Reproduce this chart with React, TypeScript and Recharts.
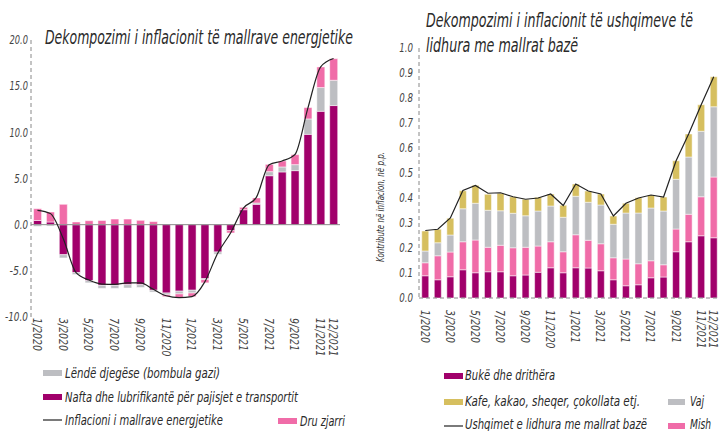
import React from 'react';
import {
  ComposedChart,
  Bar,
  Line,
  XAxis,
  YAxis,
  ReferenceLine,
} from 'recharts';

const months = [
  '1/2020', '2/2020', '3/2020', '4/2020', '5/2020', '6/2020', '7/2020', '8/2020',
  '9/2020', '10/2020', '11/2020', '12/2020', '1/2021', '2/2021', '3/2021', '4/2021',
  '5/2021', '6/2021', '7/2021', '8/2021', '9/2021', '10/2021', '11/2021', '12/2021',
];
const shownTicks = [
  '1/2020', '3/2020', '5/2020', '7/2020', '9/2020', '11/2020', '1/2021',
  '3/2021', '5/2021', '7/2021', '9/2021', '11/2021', '12/2021',
];

// energjia
const nafta = [0.45, 0.29, -3.25, -5.2, -6.07, -6.57, -6.57, -6.5, -6.5, -7.1, -7.4, -7.2, -7.1, -5.85, -2.96, -0.65, 1.62, 2.2, 5.3, 5.71, 5.85, 9.78, 12.28, 12.9];
const gazi = [-0.18, -0.15, -0.35, -0.2, -0.23, -0.33, -0.33, -0.36, -0.3, -0.2, -0.2, -0.3, -0.3, -0.1, -0.24, 0, 0, 0.15, 0.44, 0.54, 0.65, 1.67, 2.57, 2.74];
const dru = [1.28, 1.08, 2.2, 0.29, 0.43, 0.45, 0.61, 0.61, 0.47, 0.33, -0.2, -0.4, -0.4, -0.35, 0, -0.25, 0.26, 0.55, 0.79, 0.65, 1.08, 1.23, 2.23, 2.34];
const inflEnergji = [1.55, 1.2, -1.5, -5.2, -6.0, -6.43, -6.46, -6.3, -6.3, -7.0, -7.7, -7.9, -7.8, -6.2, -3.1, -0.9, 1.8, 2.95, 6.5, 6.9, 7.6, 12.6, 17.1, 18.0];
const energjiTicks = [-10, -5, 0, 5, 10, 15, 20];

// ushqimet
const buke = [0.089, 0.073, 0.085, 0.113, 0.101, 0.105, 0.105, 0.089, 0.092, 0.103, 0.121, 0.101, 0.121, 0.12, 0.109, 0.073, 0.049, 0.053, 0.081, 0.084, 0.185, 0.225, 0.249, 0.241];
const mish = [0.052, 0.096, 0.099, 0.112, 0.131, 0.098, 0.106, 0.112, 0.111, 0.105, 0.104, 0.084, 0.132, 0.111, 0.108, 0.088, 0.107, 0.084, 0.068, 0.049, 0.091, 0.11, 0.156, 0.243];
const vaj = [0.047, 0.052, 0.068, 0.132, 0.147, 0.148, 0.138, 0.138, 0.126, 0.14, 0.143, 0.138, 0.154, 0.152, 0.155, 0.134, 0.184, 0.203, 0.211, 0.215, 0.199, 0.229, 0.262, 0.281];
const kafe = [0.08, 0.054, 0.067, 0.072, 0.072, 0.064, 0.07, 0.066, 0.066, 0.055, 0.048, 0.048, 0.049, 0.045, 0.044, 0.033, 0.039, 0.061, 0.052, 0.056, 0.074, 0.092, 0.106, 0.12];
const ushqimet = [0.27, 0.275, 0.32, 0.43, 0.45, 0.419, 0.421, 0.405, 0.395, 0.4, 0.416, 0.37, 0.456, 0.428, 0.416, 0.328, 0.379, 0.4, 0.412, 0.404, 0.549, 0.656, 0.773, 0.885];
const ushqimTicks = [0, 0.1, 0.2, 0.3, 0.4, 0.5, 0.6, 0.7, 0.8, 0.9, 1.0];

const energjiData = months.map((m, i) => ({
  muaji: m,
  nafta: nafta[i],
  gazi: gazi[i],
  dru: dru[i],
  infl: inflEnergji[i],
}));

const ushqimData = months.map((m, i) => ({
  muaji: m,
  buke: buke[i],
  mish: mish[i],
  vaj: vaj[i],
  kafe: kafe[i],
  infl: ushqimet[i],
}));

const FONT = '"Liberation Sans Narrow", "DejaVu Sans Condensed", "Liberation Sans", sans-serif';
const C_DARK = '#a1006b';
const C_PINK = '#f06ca8';
const C_GRAY = '#bdbec2';
const C_GOLD = '#d6bf5f';

function MonthTick({ x, y, payload, off }: any) {
  if (!shownTicks.includes(payload.value)) return null;
  const s: string = payload.value;
  return (
    <g transform={`translate(${x},${y + off})`}>
      <text
        transform="rotate(90)"
        x={0}
        y={0}
        dy="0.35em"
        textAnchor="start"
        textLength={s.length * 5.5}
        lengthAdjust="spacingAndGlyphs"
        fill="#444"
        fontFamily={FONT}
        fontStyle="italic"
        fontSize={13}
      >
        {s}
      </text>
    </g>
  );
}

function ValueTick({ x, y, payload }: any) {
  const s = payload.value.toFixed(1);
  return (
    <text
      x={x}
      y={y}
      dy="0.35em"
      textAnchor="end"
      textLength={s.length * 4.6}
      lengthAdjust="spacingAndGlyphs"
      fill="#444"
      fontFamily={FONT}
      fontStyle="italic"
      fontSize={12}
    >
      {s}
    </text>
  );
}

const dashedAxis = { stroke: '#888', strokeDasharray: '4 3' };

function EnergjiChart() {
  return (
    <ComposedChart
      width={361}
      height={375}
      data={energjiData}
      stackOffset="sign"
      barCategoryGap="20%"
      margin={{ top: 40, right: 21, bottom: 0, left: 0 }}
    >
      <XAxis
        dataKey="muaji"
        interval={0}
        axisLine={false}
        tickLine={false}
        height={58}
        tick={<MonthTick off={-7} />}
      />
      <YAxis
        domain={[-10, 20]}
        ticks={energjiTicks}
        width={31}
        tickLine={false}
        tickSize={2}
        tickMargin={1}
        axisLine={dashedAxis}
        tick={<ValueTick />}
      />
      <ReferenceLine y={0} stroke="#8a8a8a" strokeWidth={1} />
      <Bar dataKey="nafta" stackId="e" fill={C_DARK} stroke="#fff" strokeWidth={0.5} isAnimationActive={false} />
      <Bar dataKey="gazi" stackId="e" fill={C_GRAY} stroke="#fff" strokeWidth={0.5} isAnimationActive={false} />
      <Bar dataKey="dru" stackId="e" fill={C_PINK} stroke="#fff" strokeWidth={0.5} isAnimationActive={false} />
      <Line
        type="monotone"
        dataKey="infl"
        stroke="#222"
        strokeWidth={1.2}
        dot={false}
        isAnimationActive={false}
      />
    </ComposedChart>
  );
}

function UshqimChart() {
  return (
    <ComposedChart
      width={361}
      height={360}
      data={ushqimData}
      barCategoryGap="22%"
      margin={{ top: 48, right: 2, bottom: 0, left: 0 }}
    >
      <XAxis
        dataKey="muaji"
        interval={0}
        axisLine={dashedAxis}
        tickLine={false}
        height={62}
        tick={<MonthTick off={4} />}
      />
      <YAxis
        domain={[0, 1]}
        ticks={ushqimTicks}
        width={58}
        tickLine={false}
        tickSize={4}
        tickMargin={2}
        axisLine={dashedAxis}
        tick={<ValueTick />}
      />
      <Bar dataKey="buke" stackId="u" fill={C_DARK} stroke="#fff" strokeWidth={0.5} isAnimationActive={false} />
      <Bar dataKey="mish" stackId="u" fill={C_PINK} stroke="#fff" strokeWidth={0.5} isAnimationActive={false} />
      <Bar dataKey="vaj" stackId="u" fill={C_GRAY} stroke="#fff" strokeWidth={0.5} isAnimationActive={false} />
      <Bar dataKey="kafe" stackId="u" fill={C_GOLD} stroke="#fff" strokeWidth={0.5} isAnimationActive={false} />
      <Line
        type="linear"
        dataKey="infl"
        stroke="#222"
        strokeWidth={1.2}
        dot={false}
        isAnimationActive={false}
      />
    </ComposedChart>
  );
}

function T({ x, y, len, size = 14, children }: any) {
  return (
    <text
      x={x}
      y={y}
      textLength={len}
      lengthAdjust="spacingAndGlyphs"
      fontFamily={FONT}
      fontStyle="italic"
      fontSize={size}
      fill="#2a2a2a"
    >
      {children}
    </text>
  );
}

function Overlay() {
  return (
    <svg width={722} height={431} style={{ position: 'absolute', left: 0, top: 0, pointerEvents: 'none' }}>
      <T x={45} y={44} len={308} size={19}>Dekompozimi i inflacionit të mallrave energjetike</T>
      <T x={426} y={27} len={267} size={19}>Dekompozimi i inflacionit të ushqimeve të</T>
      <T x={426} y={52} len={152} size={19}>lidhura me mallrat bazë</T>

      <text
        transform="translate(384,207) rotate(-90)"
        textAnchor="middle"
        textLength={110}
        lengthAdjust="spacingAndGlyphs"
        fontFamily={FONT}
        fontStyle="italic"
        fontSize={11}
        fill="#333"
      >
        Kontribute në inflacion, në p.p.
      </text>

      <rect x={43} y={370} width={19} height={6} fill={C_GRAY} />
      <T x={65} y={377.5} len={155}>Lëndë djegëse (bombula gazi)</T>
      <rect x={43} y={394} width={19} height={6} fill={C_DARK} />
      <T x={65} y={402} len={233}>Nafta dhe lubrifikantë për pajisjet e transportit</T>
      <line x1={43} x2={62} y1={420} y2={420} stroke="#222" strokeWidth={1.2} />
      <T x={65} y={425} len={158}>Inflacioni i mallrave energjetike</T>
      <rect x={278} y={418} width={19} height={6} fill={C_PINK} />
      <T x={300} y={426} len={45}>Dru zjarri</T>

      <rect x={444} y={373} width={19} height={6} fill={C_DARK} />
      <T x={465} y={380} len={90}>Bukë dhe drithëra</T>
      <rect x={444} y={399} width={19} height={6} fill={C_GOLD} />
      <T x={465} y={406} len={175}>Kafe, kakao, sheqer, çokollata etj.</T>
      <rect x={668} y={399} width={17} height={6} fill={C_GRAY} />
      <T x={690} y={406} len={14}>Vaj</T>
      <line x1={444} x2={463} y1={426} y2={426} stroke="#222" strokeWidth={1.2} />
      <T x={465} y={429} len={182}>Ushqimet e lidhura me mallrat bazë</T>
      <rect x={668} y={423} width={17} height={6} fill={C_PINK} />
      <T x={690} y={429} len={21}>Mish</T>
    </svg>
  );
}

export default function App() {
  return (
    <div style={{ position: 'absolute', left: 0, top: 0, width: 722, height: 431, background: '#fff', overflow: 'hidden' }}>
      <div style={{ position: 'absolute', left: 0, top: 0 }}>
        <EnergjiChart />
      </div>
      <div style={{ position: 'absolute', left: 361, top: 0 }}>
        <UshqimChart />
      </div>
      <Overlay />
    </div>
  );
}
